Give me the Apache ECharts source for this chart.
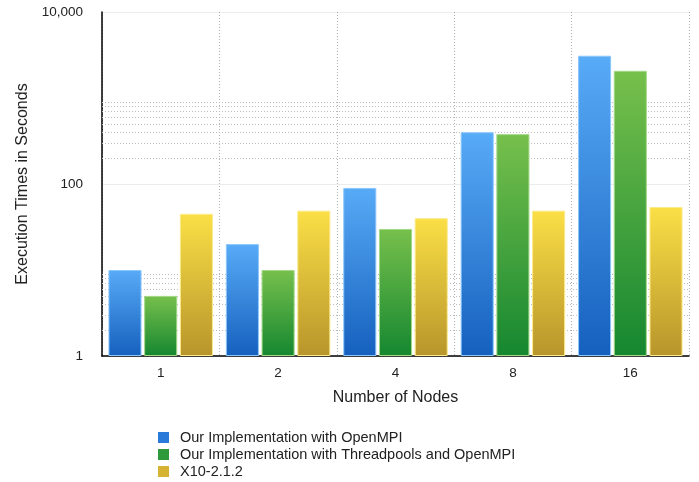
<!DOCTYPE html>
<html>
<head>
<meta charset="utf-8">
<script src="https://cdn.jsdelivr.net/npm/echarts@6/dist/echarts.min.js"></script>
<style>
  html, body { margin: 0; padding: 0; background: #ffffff; }
  #chart { width: 699px; height: 482px; }
</style>
</head>
<body>
<div id="chart"></div>
<script>
// Node counts on the x axis
const nodeCounts = ['1', '2', '4', '8', '16'];

// Execution times in seconds
const openMpiTimes = [10, 20, 90, 400, 3100];
const threadpoolTimes = [5, 10, 30, 380, 2070];
const x10Times = [45, 49, 40, 49, 54];

const seriesNames = [
  'Our Implementation with OpenMPI',
  'Our Implementation with Threadpools and OpenMPI',
  'X10-2.1.2'
];

// Dotted minor gridlines inside the 1-10 and 100-1000 decades
const minorGridValues = [2, 3, 4, 5, 6, 7, 8, 9, 200, 300, 400, 500, 600, 700, 800, 900];

function vGrad(top, bottom) {
  return new echarts.graphic.LinearGradient(0, 0, 0, 1, [
    { offset: 0, color: top },
    { offset: 1, color: bottom }
  ]);
}

const fills = [
  { fill: vGrad('#58abf7', '#1560be'), edge: '#8cc7fb' },
  { fill: vGrad('#77c04c', '#158730'), edge: '#a2d886' },
  { fill: vGrad('#fbdf46', '#b8952b'), edge: '#fcea8a' }
];

const legendColors = ['#2a7bd9', '#2f9a3b', '#d6b333'];

const chart = echarts.init(document.getElementById('chart'), null, { renderer: 'canvas' });

const barSeries = [openMpiTimes, threadpoolTimes, x10Times].map((vals, i) => ({
  name: seriesNames[i],
  type: 'bar',
  data: vals,
  z: 3,
  barGap: '8%',
  barCategoryGap: '11%',
  itemStyle: {
    color: fills[i].fill,
    borderColor: fills[i].edge,
    borderWidth: 1
  }
}));

chart.setOption({
  animation: false,
  textStyle: { fontFamily: 'Liberation Sans, Arial, sans-serif' },
  color: legendColors,
  grid: { left: 102, right: 10, top: 12, bottom: 126, containLabel: false },
  legend: {
    data: seriesNames.map((n, i) => ({ name: n, itemStyle: { color: legendColors[i], borderWidth: 0 } })),
    orient: 'vertical',
    left: 158,
    top: 429,
    padding: 0,
    icon: 'rect',
    itemWidth: 11,
    itemHeight: 11,
    itemGap: 0,
    textStyle: { fontSize: 14.5, color: '#222', padding: [0, 0, 0, 6], lineHeight: 17 }
  },
  xAxis: {
    type: 'category',
    data: nodeCounts,
    boundaryGap: true,
    name: 'Number of Nodes',
    nameLocation: 'middle',
    nameGap: 34,
    nameTextStyle: { fontSize: 16, color: '#222' },
    axisLine: { show: true, lineStyle: { color: '#000', width: 1.5 } },
    axisTick: { show: false },
    axisLabel: { fontSize: 13.5, color: '#222', margin: 10 },
    splitLine: {
      show: true,
      interval: 0,
      lineStyle: { color: '#b0b0b0', type: [1, 2], width: 1 }
    }
  },
  yAxis: {
    type: 'log',
    logBase: 10,
    min: 1,
    max: 10000,
    interval: 2,
    name: 'Execution Times in Seconds',
    nameLocation: 'middle',
    nameGap: 70,
    nameTextStyle: { fontSize: 16, color: '#222' },
    axisLine: { show: true, lineStyle: { color: '#000', width: 1.5 } },
    axisTick: { show: false },
    axisLabel: {
      fontSize: 13.5,
      color: '#222',
      margin: 19,
      formatter: v => Number(v).toLocaleString('en-US')
    },
    splitLine: { show: true, lineStyle: { color: '#ececec', width: 1 } }
  },
  series: [
    {
      name: 'minor-grid',
      type: 'line',
      data: [],
      z: 1,
      silent: true,
      markLine: {
        silent: true,
        z: 1,
        symbol: 'none',
        label: { show: false },
        lineStyle: { color: '#bdbdbd', type: [1, 2], width: 1 },
        data: minorGridValues.map(v => ({ yAxis: v }))
      }
    },
    ...barSeries
  ]
});
</script>
</body>
</html>
